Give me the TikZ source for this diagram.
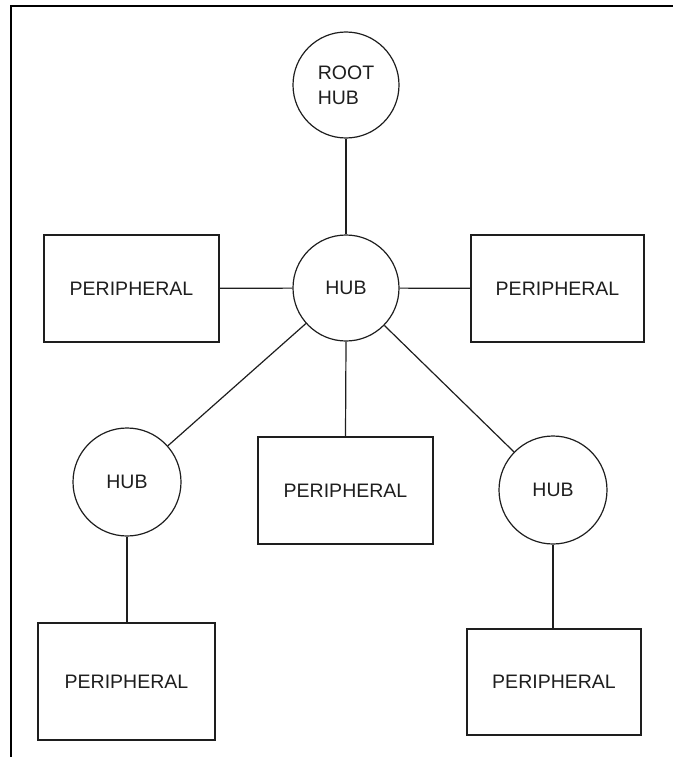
\documentclass[tikz,border=0pt]{standalone}
\usepackage{fontspec}
\setmainfont{Liberation Sans}
\definecolor{ink}{HTML}{1E1E1E}
\tikzset{
  hubnode/.style={circle, draw=ink, line width=1.2pt, inner sep=0pt,
    text=ink, font=\fontsize{19.5}{25}\selectfont},
  perbox/.style={rectangle, draw=ink, line width=1.2pt, inner sep=0pt,
    text=ink, font=\fontsize{19.5}{25}\selectfont},
  wire/.style={draw=ink, line width=1.2pt},
  frameline/.style={draw=black, line width=2.6pt}
}
\begin{document}
\begin{tikzpicture}[x=1pt,y=-1pt]
  \useasboundingbox (0,0) rectangle (673,757);
  % window edge along the top and left
  \coordinate (fa) at (11,757);
  \coordinate (fb) at (11,6);
  \coordinate (fc) at (673,6);
  \draw[frameline] (fa) -- (fb) -- (fc);

  % hubs
  \node[hubnode, minimum size=106pt, align=left] (root) at (346,85) {ROOT\\HUB};
  \node[hubnode, minimum size=106pt] (hub) at (346,288) {HUB};
  \node[hubnode, minimum size=108pt] (hubl) at (127,482) {HUB};
  \node[hubnode, minimum size=108pt] (hubr) at (553,490) {HUB};

  % peripherals
  \node[perbox, minimum width=175pt, minimum height=107pt] (pl) at (131.5,288.5) {PERIPHERAL};
  \node[perbox, minimum width=173pt, minimum height=107pt] (pr) at (557.5,288.5) {PERIPHERAL};
  \node[perbox, minimum width=175pt, minimum height=107pt] (pc) at (345.5,490.5) {PERIPHERAL};
  \node[perbox, minimum width=177pt, minimum height=117pt] (pll) at (126.5,681.5) {PERIPHERAL};
  \node[perbox, minimum width=174pt, minimum height=106pt] (prr) at (554,682) {PERIPHERAL};

  % connections
  \draw[wire] (root) -- (hub);
  \draw[wire] (pl) -- (hub);
  \draw[wire] (hub) -- (pr);
  \draw[wire] (hub) -- (hubl);
  \draw[wire] (hub) -- (hubr);
  \draw[wire] (hub.south) -- (pc.north);
  \draw[wire] (hubl) -- (hubl |- pll.north);
  \draw[wire] (hubr) -- (hubr |- prr.north);
\end{tikzpicture}
\end{document}
